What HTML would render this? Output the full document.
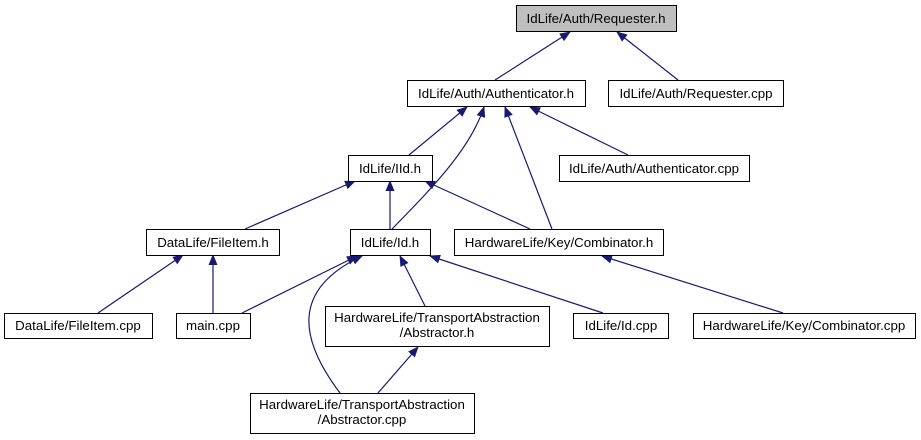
<!DOCTYPE html>
<html><head><meta charset="utf-8"><style>
html,body{margin:0;padding:0;background:#fff;}
svg{display:block;}
text{font-family:"Liberation Sans",Arial,sans-serif;font-size:13.3px;fill:#000;}
</style></head><body>
<svg width="921" height="440" viewBox="0 0 921 440" xmlns="http://www.w3.org/2000/svg">
<defs>
<marker id="a" markerWidth="11" markerHeight="9" refX="10" refY="4.5" orient="auto" markerUnits="userSpaceOnUse">
<path d="M0,0 L11,4.5 L0,9 Z" fill="#191970"/>
</marker>
</defs>
<g stroke="#191970" stroke-width="1.2" fill="none" marker-end="url(#a)">
<line x1="495" y1="80" x2="570" y2="32"/>
<line x1="678" y1="80" x2="617" y2="32"/>
<line x1="409" y1="155" x2="467" y2="107"/>
<path d="M392,229 C430,190 470,150 484,107"/>
<line x1="552" y1="229" x2="505" y2="107"/>
<line x1="628" y1="155" x2="530" y2="107"/>
<line x1="245" y1="229" x2="355" y2="181"/>
<line x1="390" y1="229" x2="390" y2="181"/>
<line x1="530" y1="229" x2="425" y2="181"/>
<line x1="98" y1="313" x2="183" y2="255"/>
<line x1="213" y1="313" x2="213" y2="255"/>
<line x1="242" y1="313" x2="357" y2="256"/>
<path d="M340,393 C300,340 290,290 362,256"/>
<line x1="425" y1="306" x2="400" y2="256"/>
<line x1="603" y1="313" x2="430" y2="256"/>
<line x1="783" y1="313" x2="602" y2="256"/>
<line x1="378" y1="393" x2="418" y2="347"/>
</g>
<g stroke="#000" stroke-width="1" fill="#fff">
<rect x="516.5" y="5.5" width="160" height="26" fill="#bfbfbf"/>
<rect x="407.5" y="80.5" width="178" height="26"/>
<rect x="608.5" y="80.5" width="175" height="26"/>
<rect x="348.5" y="155.5" width="84" height="26"/>
<rect x="559.5" y="155.5" width="190" height="26"/>
<rect x="146.5" y="229.5" width="133" height="26"/>
<rect x="350.5" y="229.5" width="80" height="26"/>
<rect x="454.5" y="229.5" width="209" height="26"/>
<rect x="4.5" y="313.5" width="148" height="25"/>
<rect x="176.5" y="313.5" width="74" height="25"/>
<rect x="325.5" y="306.5" width="224" height="40"/>
<rect x="573.5" y="313.5" width="95" height="25"/>
<rect x="693.5" y="313.5" width="222" height="25"/>
<rect x="250.5" y="393.5" width="224" height="40"/>
</g>
<g text-anchor="middle">
<text x="596" y="23">IdLife/Auth/Requester.h</text>
<text x="496" y="98">IdLife/Auth/Authenticator.h</text>
<text x="696" y="98">IdLife/Auth/Requester.cpp</text>
<text x="390" y="173">IdLife/IId.h</text>
<text x="654" y="173">IdLife/Auth/Authenticator.cpp</text>
<text x="213" y="247">DataLife/FileItem.h</text>
<text x="390" y="247">IdLife/Id.h</text>
<text x="559" y="247">HardwareLife/Key/Combinator.h</text>
<text x="78" y="330">DataLife/FileItem.cpp</text>
<text x="213" y="330">main.cpp</text>
<text x="437" y="322">HardwareLife/TransportAbstraction</text>
<text x="437" y="337">/Abstractor.h</text>
<text x="621" y="330">IdLife/Id.cpp</text>
<text x="804" y="330">HardwareLife/Key/Combinator.cpp</text>
<text x="362" y="409">HardwareLife/TransportAbstraction</text>
<text x="362" y="424">/Abstractor.cpp</text>
</g>
</svg>
</body></html>
